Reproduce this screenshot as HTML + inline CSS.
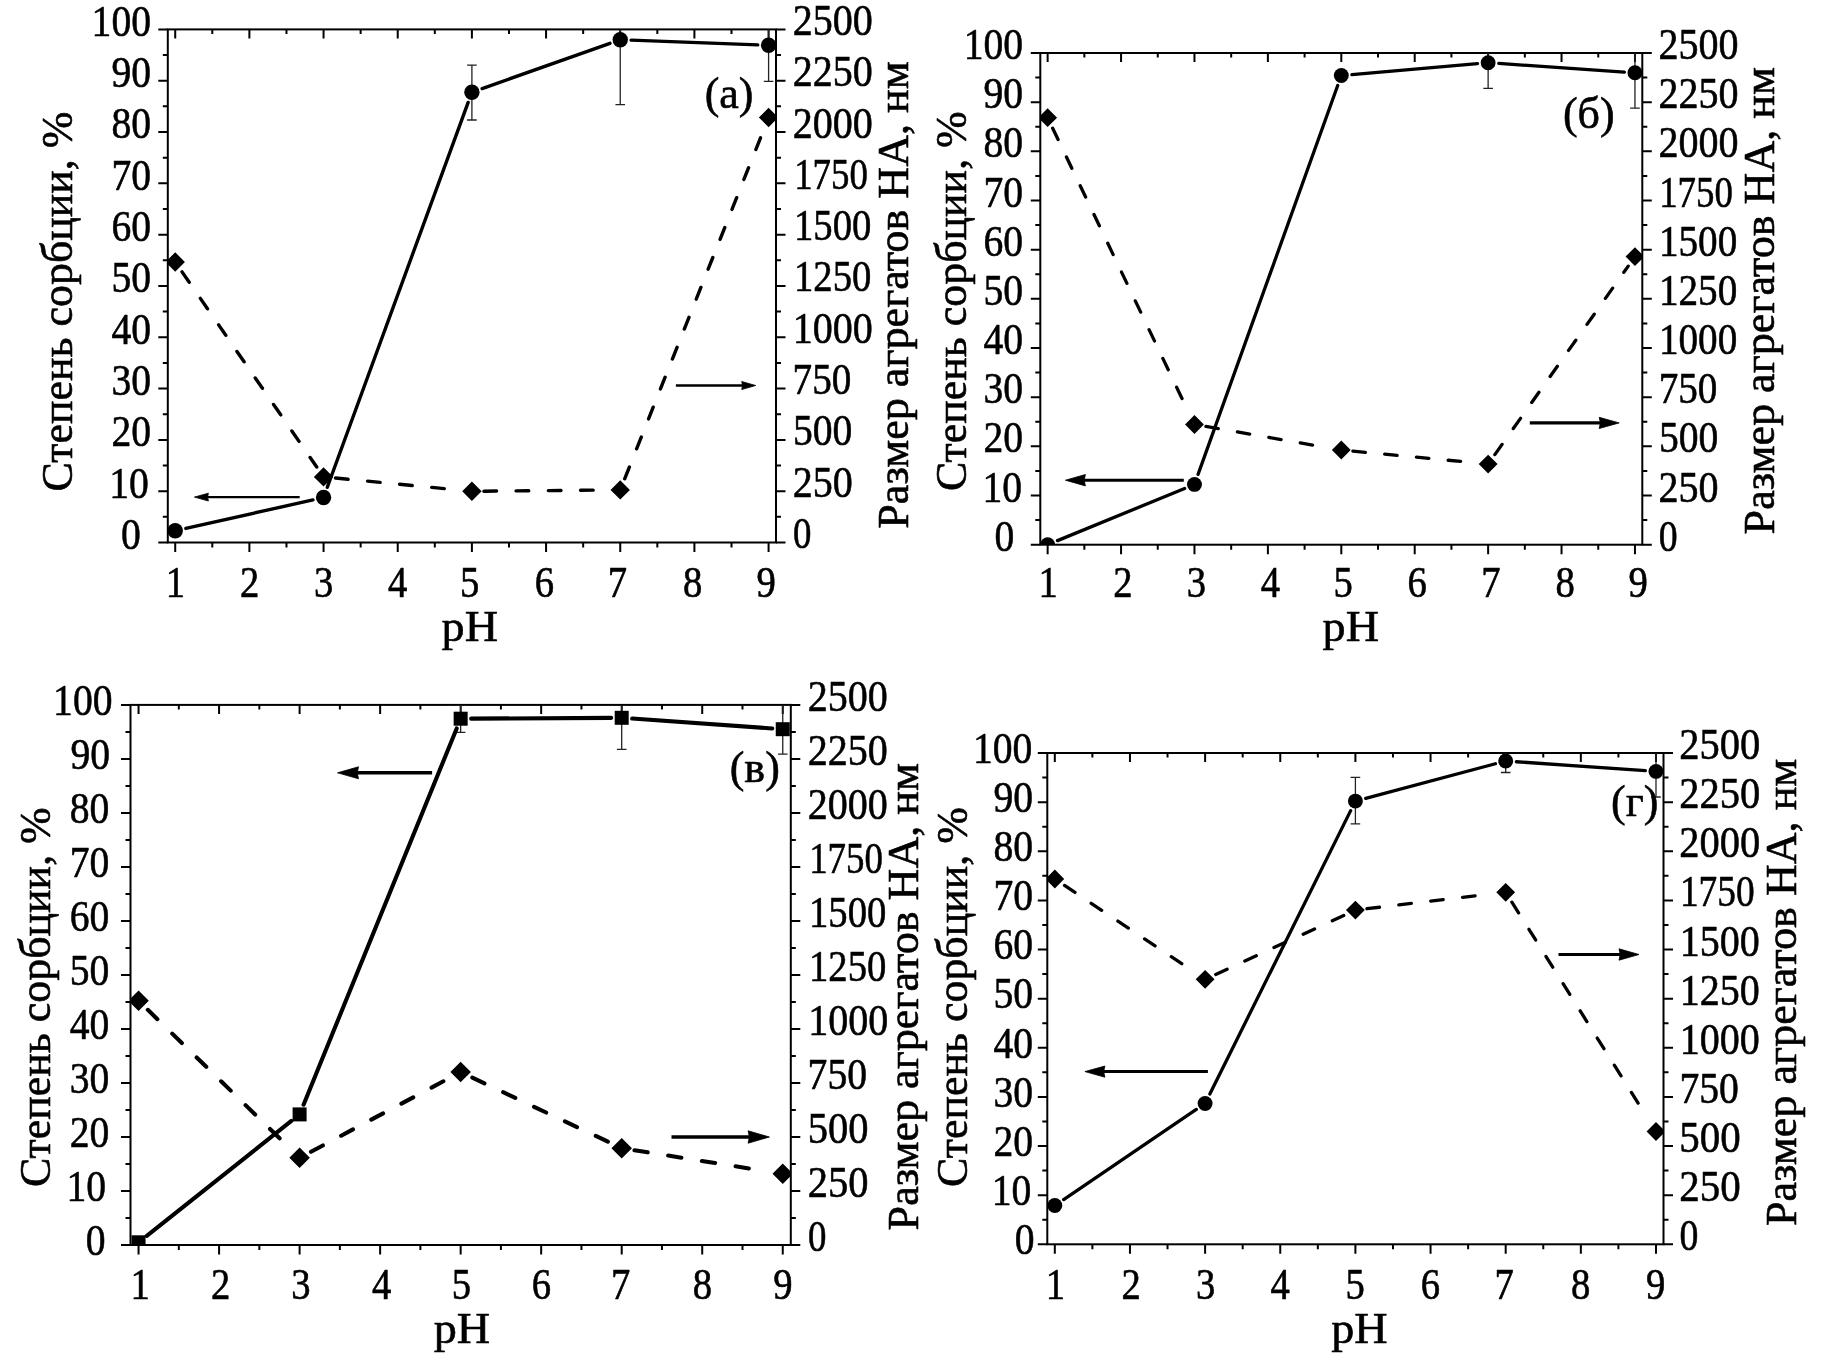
<!DOCTYPE html><html><head><meta charset="utf-8"><style>html,body{margin:0;padding:0;background:#fff;}svg{display:block;filter:grayscale(1);}text{font-family:"Liberation Serif",serif;fill:#000;stroke:#000;stroke-width:0.6px;stroke-linejoin:round;}</style></head><body>
<svg width="1832" height="1357" viewBox="0 0 1832 1357">
<rect width="1832" height="1357" fill="#fff"/>
<clipPath id="clip0"><rect x="167.8" y="29.4" width="608.2" height="513.1"/></clipPath>
<path d="M158.3 542.5H167.8M162.8 516.85H167.8M158.3 491.19H167.8M162.8 465.53H167.8M158.3 439.88H167.8M162.8 414.23H167.8M158.3 388.57H167.8M162.8 362.91H167.8M158.3 337.26H167.8M162.8 311.61H167.8M158.3 285.95H167.8M162.8 260.3H167.8M158.3 234.64H167.8M162.8 208.99H167.8M158.3 183.33H167.8M162.8 157.68H167.8M158.3 132.02H167.8M162.8 106.37H167.8M158.3 80.71H167.8M162.8 55.06H167.8M158.3 29.4H167.8M776 542.5H785.5M776 516.85H781M776 491.19H785.5M776 465.53H781M776 439.88H785.5M776 414.23H781M776 388.57H785.5M776 362.91H781M776 337.26H785.5M776 311.61H781M776 285.95H785.5M776 260.3H781M776 234.64H785.5M776 208.99H781M776 183.33H785.5M776 157.68H781M776 132.02H785.5M776 106.37H781M776 80.71H785.5M776 55.06H781M776 29.4H785.5M175.22 542.5V552M175.22 29.4V38.4M212.3 542.5V547.5M212.3 29.4V33.9M249.39 542.5V552M249.39 29.4V38.4M286.47 542.5V547.5M286.47 29.4V33.9M323.56 542.5V552M323.56 29.4V38.4M360.64 542.5V547.5M360.64 29.4V33.9M397.73 542.5V552M397.73 29.4V38.4M434.81 542.5V547.5M434.81 29.4V33.9M471.9 542.5V552M471.9 29.4V38.4M508.99 542.5V547.5M508.99 29.4V33.9M546.07 542.5V552M546.07 29.4V38.4M583.16 542.5V547.5M583.16 29.4V33.9M620.24 542.5V552M620.24 29.4V38.4M657.33 542.5V547.5M657.33 29.4V33.9M694.41 542.5V552M694.41 29.4V38.4M731.5 542.5V547.5M731.5 29.4V33.9M768.58 542.5V552M768.58 29.4V38.4" stroke="#000" stroke-width="2.0" fill="none"/>
<rect x="167.8" y="29.4" width="608.2" height="513.1" stroke="#000" stroke-width="2.0" fill="none"/>
<g clip-path="url(#clip0)">
<path d="M471.9 65.2V120M467.1 65.2H476.7M467.1 120H476.7M620.24 -30V104.6M615.44 -30H625.04M615.44 104.6H625.04M768.58 9.2V81.4M763.78 9.2H773.38M763.78 81.4H773.38" stroke="#222" stroke-width="1.3" fill="none"/>
<path d="M185.83 528.42L312.95 499.88M327.3 487.29L468.16 102.41M482.15 88.57L609.99 43.33M631.11 40.11L757.71 44.89" stroke="#000" stroke-width="3.4" fill="none" stroke-linecap="round"/>
<path d="M182.03 271.87L189.2 282.26M200.33 298.39L207.51 308.78M218.64 324.9L225.81 335.29M236.94 351.42L244.11 361.81M255.24 377.93L262.42 388.32M273.55 404.45L280.72 414.84M291.85 430.96L299.02 441.35M310.15 457.48L316.74 467.03M335.5 478.06L348.06 479.28M367.57 481.17L380.13 482.39M399.63 484.28L412.2 485.5M431.7 487.4L444.27 488.62M483.9 491.19L496.52 491.07M516.11 490.88L528.74 490.76M548.33 490.58L560.96 490.46M580.55 490.27L593.17 490.16M624.68 478.76L629.35 467.03M636.6 448.82L641.28 437.1M648.53 418.89L653.2 407.16M660.45 388.96L665.12 377.23M672.37 359.03L677.04 347.3M684.3 329.1L688.97 317.37M696.22 299.17L700.89 287.44M708.14 269.23L712.81 257.5M720.06 239.3L724.74 227.57M731.99 209.37L736.66 197.64M743.91 179.44L748.58 167.71M755.83 149.51L760.51 137.78" stroke="#000" stroke-width="3.4" fill="none" stroke-linecap="round"/>
<circle cx="175.22" cy="530.8" r="7.68"/>
<circle cx="323.56" cy="497.5" r="7.68"/>
<circle cx="471.9" cy="92.2" r="7.68"/>
<circle cx="620.24" cy="39.7" r="7.68"/>
<circle cx="768.58" cy="45.3" r="7.68"/>
<path d="M175.22 252.3L184.91 262L175.22 271.7L165.52 262ZM323.56 467.2L333.25 476.9L323.56 486.6L313.86 476.9ZM471.9 481.6L481.6 491.3L471.9 501L462.2 491.3ZM620.24 480.2L629.94 489.9L620.24 499.6L610.55 489.9ZM768.58 107.8L778.28 117.5L768.58 127.2L758.89 117.5Z" fill="#000"/>
</g>
<path d="M299.7 497.1H206.4" stroke="#000" stroke-width="2.3"/>
<path d="M194.4 497.1L208.4 493.2L207.56 497.1L208.4 501Z" fill="#000" stroke="#000" stroke-width="0.8" stroke-linejoin="round"/>
<path d="M675.9 385.5H743.7" stroke="#000" stroke-width="2.4"/>
<path d="M755.7 385.5L741.7 381.5L742.54 385.5L741.7 389.5Z" fill="#000" stroke="#000" stroke-width="0.8" stroke-linejoin="round"/>
<g font-size="45.0"><text transform="translate(121.01 548.89) scale(0.88 1)">0</text><text transform="translate(109.21 497.58) scale(0.88 1)">10</text><text transform="translate(111.41 446.27) scale(0.88 1)">20</text><text transform="translate(111.41 394.96) scale(0.88 1)">30</text><text transform="translate(111.41 343.65) scale(0.88 1)">40</text><text transform="translate(111.41 292.34) scale(0.88 1)">50</text><text transform="translate(111.41 241.03) scale(0.88 1)">60</text><text transform="translate(111.41 189.72) scale(0.88 1)">70</text><text transform="translate(111.41 138.41) scale(0.88 1)">80</text><text transform="translate(111.41 87.1) scale(0.88 1)">90</text><text transform="translate(91.61 35.79) scale(0.88 1)">100</text><text transform="translate(793.09 547.98) scale(0.82 1)">0</text><text transform="translate(792.75 496.67) scale(0.89 1)">250</text><text transform="translate(792.89 445.36) scale(0.88 1)">500</text><text transform="translate(792.61 394.05) scale(0.87 1)">750</text><text transform="translate(792.8 342.74) scale(0.89 1)">1000</text><text transform="translate(794 291.43) scale(0.86 1)">1250</text><text transform="translate(794 240.12) scale(0.86 1)">1500</text><text transform="translate(794.17 188.81) scale(0.82 1)">1750</text><text transform="translate(792.75 137.5) scale(0.89 1)">2000</text><text transform="translate(792.75 86.19) scale(0.89 1)">2250</text><text transform="translate(792.75 34.88) scale(0.89 1)">2500</text><text font-size="43.4" transform="translate(165.72 596.5) scale(0.89 1)">1</text><text font-size="43.4" transform="translate(240.05 596.5) scale(0.89 1)">2</text><text font-size="43.4" transform="translate(314.03 596.5) scale(0.89 1)">3</text><text font-size="43.4" transform="translate(388 596.5) scale(0.89 1)">4</text><text font-size="43.4" transform="translate(459.98 596.5) scale(0.89 1)">5</text><text font-size="43.4" transform="translate(534.76 596.5) scale(0.89 1)">6</text><text font-size="43.4" transform="translate(607.67 596.5) scale(0.89 1)">7</text><text font-size="43.4" transform="translate(682.96 596.5) scale(0.89 1)">8</text><text font-size="43.4" transform="translate(756.5 596.5) scale(0.89 1)">9</text></g>
<text transform="translate(469.8 641.1) scale(1.05 1)" font-size="44.0" text-anchor="middle">pH</text>
<text transform="translate(72.4 491.4) rotate(-90)" font-size="44.0" textLength="379.8" lengthAdjust="spacingAndGlyphs">Степень сорбции, %</text>
<text transform="translate(908.4 528.7) rotate(-90)" font-size="44.0" textLength="467.3" lengthAdjust="spacingAndGlyphs">Размер агрегатов НА, нм</text>
<text x="729.05" y="108" font-size="44.0" text-anchor="middle">(a)</text>
<clipPath id="clip1"><rect x="1040.3" y="53" width="602" height="491.7"/></clipPath>
<path d="M1030.8 544.7H1040.3M1035.3 520.12H1040.3M1030.8 495.53H1040.3M1035.3 470.95H1040.3M1030.8 446.36H1040.3M1035.3 421.78H1040.3M1030.8 397.19H1040.3M1035.3 372.61H1040.3M1030.8 348.02H1040.3M1035.3 323.44H1040.3M1030.8 298.85H1040.3M1035.3 274.26H1040.3M1030.8 249.68H1040.3M1035.3 225.1H1040.3M1030.8 200.51H1040.3M1035.3 175.93H1040.3M1030.8 151.34H1040.3M1035.3 126.75H1040.3M1030.8 102.17H1040.3M1035.3 77.58H1040.3M1030.8 53H1040.3M1642.3 544.7H1651.8M1642.3 520.12H1647.3M1642.3 495.53H1651.8M1642.3 470.95H1647.3M1642.3 446.36H1651.8M1642.3 421.78H1647.3M1642.3 397.19H1651.8M1642.3 372.61H1647.3M1642.3 348.02H1651.8M1642.3 323.44H1647.3M1642.3 298.85H1651.8M1642.3 274.26H1647.3M1642.3 249.68H1651.8M1642.3 225.1H1647.3M1642.3 200.51H1651.8M1642.3 175.93H1647.3M1642.3 151.34H1651.8M1642.3 126.75H1647.3M1642.3 102.17H1651.8M1642.3 77.59H1647.3M1642.3 53H1651.8M1047.64 544.7V554.2M1047.64 53V62M1084.35 544.7V549.7M1084.35 53V57.5M1121.06 544.7V554.2M1121.06 53V62M1157.76 544.7V549.7M1157.76 53V57.5M1194.47 544.7V554.2M1194.47 53V62M1231.18 544.7V549.7M1231.18 53V57.5M1267.89 544.7V554.2M1267.89 53V62M1304.59 544.7V549.7M1304.59 53V57.5M1341.3 544.7V554.2M1341.3 53V62M1378.01 544.7V549.7M1378.01 53V57.5M1414.71 544.7V554.2M1414.71 53V62M1451.42 544.7V549.7M1451.42 53V57.5M1488.13 544.7V554.2M1488.13 53V62M1524.84 544.7V549.7M1524.84 53V57.5M1561.54 544.7V554.2M1561.54 53V62M1598.25 544.7V549.7M1598.25 53V57.5M1634.96 544.7V554.2M1634.96 53V62" stroke="#000" stroke-width="2.0" fill="none"/>
<rect x="1040.3" y="53" width="602" height="491.7" stroke="#000" stroke-width="2.0" fill="none"/>
<g clip-path="url(#clip1)">
<path d="M1488.13 37V88.4M1483.33 37H1492.93M1483.33 88.4H1492.93M1634.96 37.4V108.2M1630.16 37.4H1639.76M1630.16 108.2H1639.76" stroke="#222" stroke-width="1.3" fill="none"/>
<path d="M1057.49 540.65L1184.62 488.45M1198.07 474.38L1337.7 85.52M1351.91 74.58L1477.52 63.62M1498.75 63.43L1624.34 72.07" stroke="#000" stroke-width="3.3" fill="none" stroke-linecap="round"/>
<path d="M1052.67 128.22L1058.07 139.49M1066.45 156.99L1071.84 168.27M1080.22 185.76L1085.61 197.04M1093.99 214.54L1099.38 225.81M1107.76 243.31L1113.15 254.59M1121.53 272.09L1126.93 283.36M1135.3 300.86L1140.7 312.14M1149.07 329.64L1154.47 340.91M1162.84 358.41L1168.24 369.69M1176.61 387.19L1182.01 398.46M1205.96 426.49L1218.27 428.63M1237.39 431.95L1249.7 434.09M1268.82 437.41L1281.13 439.55M1300.25 442.87L1312.56 445.01M1352.9 451.11L1365.35 452.31M1384.66 454.16L1397.1 455.36M1416.41 457.21L1428.86 458.41M1448.17 460.26L1460.61 461.46M1494.86 454.58L1502.08 444.38M1513.29 428.54L1520.51 418.34M1531.72 402.5L1538.94 392.3M1550.14 376.46L1557.36 366.26M1568.57 350.42L1575.79 340.22M1586.99 324.38L1594.21 314.18M1605.42 298.34L1612.64 288.14M1623.85 272.3L1628.22 266.12" stroke="#000" stroke-width="3.3" fill="none" stroke-linecap="round"/>
<circle cx="1047.64" cy="544.7" r="7.45"/>
<circle cx="1194.47" cy="484.4" r="7.45"/>
<circle cx="1341.3" cy="75.5" r="7.45"/>
<circle cx="1488.13" cy="62.7" r="7.45"/>
<circle cx="1634.96" cy="72.8" r="7.45"/>
<path d="M1047.64 108.29L1057.05 117.7L1047.64 127.11L1038.23 117.7ZM1194.47 415.09L1203.88 424.5L1194.47 433.91L1185.06 424.5ZM1341.3 440.59L1350.71 450L1341.3 459.41L1331.89 450ZM1488.13 454.69L1497.54 464.1L1488.13 473.51L1478.72 464.1ZM1634.96 247.19L1644.37 256.6L1634.96 266.01L1625.55 256.6Z" fill="#000"/>
</g>
<path d="M1183.8 480.2H1083.4" stroke="#000" stroke-width="3.0"/>
<path d="M1065.4 480.2L1085.4 474.5L1084.2 480.2L1085.4 485.9Z" fill="#000" stroke="#000" stroke-width="0.8" stroke-linejoin="round"/>
<path d="M1529.8 422.9H1601.2" stroke="#000" stroke-width="3.1"/>
<path d="M1619.2 422.9L1599.2 417.3L1600.4 422.9L1599.2 428.5Z" fill="#000" stroke="#000" stroke-width="0.8" stroke-linejoin="round"/>
<g font-size="45.0"><text transform="translate(994.51 550.7) scale(0.88 1)">0</text><text transform="translate(982.41 501.53) scale(0.88 1)">10</text><text transform="translate(983.51 452.36) scale(0.88 1)">20</text><text transform="translate(983.51 403.19) scale(0.88 1)">30</text><text transform="translate(983.51 354.02) scale(0.88 1)">40</text><text transform="translate(983.51 304.85) scale(0.88 1)">50</text><text transform="translate(983.51 255.68) scale(0.88 1)">60</text><text transform="translate(983.51 206.51) scale(0.88 1)">70</text><text transform="translate(983.51 157.34) scale(0.88 1)">80</text><text transform="translate(983.51 108.17) scale(0.88 1)">90</text><text transform="translate(963.71 59) scale(0.88 1)">100</text><text transform="translate(1658.75 550.71) scale(0.84 1)">0</text><text transform="translate(1658.43 501.54) scale(0.89 1)">250</text><text transform="translate(1658.99 452.37) scale(0.88 1)">500</text><text transform="translate(1658.71 403.2) scale(0.87 1)">750</text><text transform="translate(1658.95 354.03) scale(0.87 1)">1000</text><text transform="translate(1658.95 304.86) scale(0.87 1)">1250</text><text transform="translate(1658.95 255.69) scale(0.87 1)">1500</text><text transform="translate(1659.15 206.52) scale(0.82 1)">1750</text><text transform="translate(1658.44 157.35) scale(0.89 1)">2000</text><text transform="translate(1658.44 108.18) scale(0.89 1)">2250</text><text transform="translate(1658.44 59.01) scale(0.89 1)">2500</text><text font-size="43.4" transform="translate(1038.55 597) scale(0.89 1)">1</text><text font-size="43.4" transform="translate(1113.32 597) scale(0.89 1)">2</text><text font-size="43.4" transform="translate(1186.74 597) scale(0.89 1)">3</text><text font-size="43.4" transform="translate(1260.75 597) scale(0.89 1)">4</text><text font-size="43.4" transform="translate(1333.38 597) scale(0.89 1)">5</text><text font-size="43.4" transform="translate(1407.4 597) scale(0.89 1)">6</text><text font-size="43.4" transform="translate(1481.26 597) scale(0.89 1)">7</text><text font-size="43.4" transform="translate(1555.49 597) scale(0.89 1)">8</text><text font-size="43.4" transform="translate(1628.57 597) scale(0.89 1)">9</text></g>
<text transform="translate(1350.8 640.7) scale(1.05 1)" font-size="44.0" text-anchor="middle">pH</text>
<text transform="translate(966 491.1) rotate(-90)" font-size="44.0" textLength="379.8" lengthAdjust="spacingAndGlyphs">Степень сорбции, %</text>
<text transform="translate(1773.9 534.4) rotate(-90)" font-size="44.0" textLength="467.3" lengthAdjust="spacingAndGlyphs">Размер агрегатов НА, нм</text>
<text x="1588.75" y="128.4" font-size="44.0" text-anchor="middle">(б)</text>
<clipPath id="clip2"><rect x="130.5" y="704.9" width="660.3" height="540.1"/></clipPath>
<path d="M121 1245H130.5M125.5 1217.99H130.5M121 1190.99H130.5M125.5 1163.98H130.5M121 1136.98H130.5M125.5 1109.97H130.5M121 1082.97H130.5M125.5 1055.96H130.5M121 1028.96H130.5M125.5 1001.96H130.5M121 974.95H130.5M125.5 947.94H130.5M121 920.94H130.5M125.5 893.93H130.5M121 866.93H130.5M125.5 839.92H130.5M121 812.92H130.5M125.5 785.91H130.5M121 758.91H130.5M125.5 731.9H130.5M121 704.9H130.5M790.8 1245H800.3M790.8 1217.99H795.8M790.8 1190.99H800.3M790.8 1163.98H795.8M790.8 1136.98H800.3M790.8 1109.97H795.8M790.8 1082.97H800.3M790.8 1055.96H795.8M790.8 1028.96H800.3M790.8 1001.96H795.8M790.8 974.95H800.3M790.8 947.94H795.8M790.8 920.94H800.3M790.8 893.93H795.8M790.8 866.93H800.3M790.8 839.92H795.8M790.8 812.92H800.3M790.8 785.91H795.8M790.8 758.91H800.3M790.8 731.9H795.8M790.8 704.9H800.3M138.55 1245V1254.5M138.55 704.9V713.9M178.81 1245V1250M178.81 704.9V709.4M219.08 1245V1254.5M219.08 704.9V713.9M259.34 1245V1250M259.34 704.9V709.4M299.6 1245V1254.5M299.6 704.9V713.9M339.86 1245V1250M339.86 704.9V709.4M380.13 1245V1254.5M380.13 704.9V713.9M420.39 1245V1250M420.39 704.9V709.4M460.65 1245V1254.5M460.65 704.9V713.9M500.91 1245V1250M500.91 704.9V709.4M541.17 1245V1254.5M541.17 704.9V713.9M581.44 1245V1250M581.44 704.9V709.4M621.7 1245V1254.5M621.7 704.9V713.9M661.96 1245V1250M661.96 704.9V709.4M702.22 1245V1254.5M702.22 704.9V713.9M742.49 1245V1250M742.49 704.9V709.4M782.75 1245V1254.5M782.75 704.9V713.9" stroke="#000" stroke-width="2.0" fill="none"/>
<rect x="130.5" y="704.9" width="660.3" height="540.1" stroke="#000" stroke-width="2.0" fill="none"/>
<g clip-path="url(#clip2)">
<path d="M460.65 705V732.4M455.85 705H465.45M455.85 732.4H465.45M621.7 686.2V749.4M616.9 686.2H626.5M616.9 749.4H626.5M782.75 703.8V754.2M777.95 703.8H787.55M777.95 754.2H787.55" stroke="#222" stroke-width="1.3" fill="none"/>
<path d="M146.77 1235.77L291.38 1120.93M303.56 1104.67L456.69 728.43M471.15 718.64L611.2 717.86M632.17 718.54L772.27 728.46" stroke="#000" stroke-width="4.1" fill="none" stroke-linecap="round"/>
<path d="M147.81 1009.82L157.38 1019.16M172.25 1033.65L181.82 1042.98M196.69 1057.47L206.26 1066.81M221.13 1081.3L230.71 1090.64M245.57 1105.13L255.15 1114.46M270.01 1128.95L279.59 1138.29M311.01 1151.73L322.82 1145.45M341.14 1135.7L352.95 1129.41M371.27 1119.66L383.08 1113.38M401.41 1103.63L413.21 1097.34M431.54 1087.59L443.35 1081.31M472.33 1077.62L484.43 1083.33M503.19 1092.2L515.29 1097.92M534.06 1106.79L546.15 1112.5M564.92 1121.37L577.01 1127.08M595.78 1135.95L607.87 1141.67M634.46 1150.23L647.67 1152.33M668.17 1155.59L681.38 1157.69M701.88 1160.95L715.09 1163.05M735.59 1166.3L748.8 1168.4" stroke="#000" stroke-width="4.1" fill="none" stroke-linecap="round"/>
<rect x="131.55" y="1235.3" width="14" height="14"/>
<rect x="292.6" y="1107.4" width="14" height="14"/>
<rect x="453.65" y="711.7" width="14" height="14"/>
<rect x="614.7" y="710.8" width="14" height="14"/>
<rect x="775.75" y="722.2" width="14" height="14"/>
<path d="M138.55 990.53L148.82 1000.8L138.55 1011.07L128.28 1000.8ZM299.6 1147.53L309.87 1157.8L299.6 1168.07L289.33 1157.8ZM460.65 1061.83L470.92 1072.1L460.65 1082.37L450.38 1072.1ZM621.7 1137.93L631.97 1148.2L621.7 1158.47L611.43 1148.2ZM782.75 1163.53L793.02 1173.8L782.75 1184.07L772.48 1173.8Z" fill="#000"/>
</g>
<path d="M432.1 772.8H356.5" stroke="#000" stroke-width="3.6"/>
<path d="M337.5 772.8L358.5 766.8L357.24 772.8L358.5 778.8Z" fill="#000" stroke="#000" stroke-width="0.8" stroke-linejoin="round"/>
<path d="M671.5 1137H750.1" stroke="#000" stroke-width="3.6"/>
<path d="M769.4 1137L748.1 1130.8L749.38 1137L748.1 1143.2Z" fill="#000" stroke="#000" stroke-width="0.8" stroke-linejoin="round"/>
<g font-size="45.0"><text transform="translate(85.71 1254.84) scale(0.88 1)">0</text><text transform="translate(66.41 1200.83) scale(0.88 1)">10</text><text transform="translate(69.71 1146.82) scale(0.88 1)">20</text><text transform="translate(69.71 1092.81) scale(0.88 1)">30</text><text transform="translate(69.71 1038.8) scale(0.88 1)">40</text><text transform="translate(69.71 984.79) scale(0.88 1)">50</text><text transform="translate(69.71 930.78) scale(0.88 1)">60</text><text transform="translate(69.71 876.77) scale(0.88 1)">70</text><text transform="translate(69.71 822.76) scale(0.88 1)">80</text><text transform="translate(70.41 768.75) scale(0.88 1)">90</text><text transform="translate(53.11 714.74) scale(0.88 1)">100</text><text transform="translate(808.09 1251.47) scale(0.82 1)">0</text><text transform="translate(807.71 1197.46) scale(0.9 1)">250</text><text transform="translate(807.84 1143.45) scale(0.9 1)">500</text><text transform="translate(807.59 1089.44) scale(0.88 1)">750</text><text transform="translate(808.18 1035.43) scale(0.89 1)">1000</text><text transform="translate(809 981.42) scale(0.86 1)">1250</text><text transform="translate(809 927.41) scale(0.86 1)">1500</text><text transform="translate(809.15 873.4) scale(0.82 1)">1750</text><text transform="translate(807.73 819.39) scale(0.89 1)">2000</text><text transform="translate(807.73 765.38) scale(0.89 1)">2250</text><text transform="translate(807.73 711.37) scale(0.89 1)">2500</text><text font-size="43.4" transform="translate(130.56 1298.8) scale(0.89 1)">1</text><text font-size="43.4" transform="translate(211.04 1298.8) scale(0.89 1)">2</text><text font-size="43.4" transform="translate(291.37 1298.8) scale(0.89 1)">3</text><text font-size="43.4" transform="translate(371.99 1298.8) scale(0.89 1)">4</text><text font-size="43.4" transform="translate(451.83 1298.8) scale(0.89 1)">5</text><text font-size="43.4" transform="translate(531.86 1298.8) scale(0.89 1)">6</text><text font-size="43.4" transform="translate(610.93 1298.8) scale(0.89 1)">7</text><text font-size="43.4" transform="translate(692.77 1298.8) scale(0.89 1)">8</text><text font-size="43.4" transform="translate(773.26 1298.8) scale(0.89 1)">9</text></g>
<text transform="translate(461.9 1342.6) scale(1.05 1)" font-size="44.0" text-anchor="middle">pH</text>
<text transform="translate(49.9 1187.1) rotate(-90)" font-size="44.0" textLength="379.8" lengthAdjust="spacingAndGlyphs">Степень сорбции, %</text>
<text transform="translate(918.4 1230.4) rotate(-90)" font-size="44.0" textLength="467.3" lengthAdjust="spacingAndGlyphs">Размер агрегатов НА, нм</text>
<text x="754.75" y="782.2" font-size="44.0" text-anchor="middle">(в)</text>
<clipPath id="clip3"><rect x="1047.3" y="753" width="616.2" height="491.3"/></clipPath>
<path d="M1037.8 1244.3H1047.3M1042.3 1219.73H1047.3M1037.8 1195.17H1047.3M1042.3 1170.61H1047.3M1037.8 1146.04H1047.3M1042.3 1121.47H1047.3M1037.8 1096.91H1047.3M1042.3 1072.35H1047.3M1037.8 1047.78H1047.3M1042.3 1023.22H1047.3M1037.8 998.65H1047.3M1042.3 974.09H1047.3M1037.8 949.52H1047.3M1042.3 924.95H1047.3M1037.8 900.39H1047.3M1042.3 875.82H1047.3M1037.8 851.26H1047.3M1042.3 826.7H1047.3M1037.8 802.13H1047.3M1042.3 777.57H1047.3M1037.8 753H1047.3M1663.5 1244.3H1673M1663.5 1219.73H1668.5M1663.5 1195.17H1673M1663.5 1170.61H1668.5M1663.5 1146.04H1673M1663.5 1121.47H1668.5M1663.5 1096.91H1673M1663.5 1072.35H1668.5M1663.5 1047.78H1673M1663.5 1023.21H1668.5M1663.5 998.65H1673M1663.5 974.09H1668.5M1663.5 949.52H1673M1663.5 924.95H1668.5M1663.5 900.39H1673M1663.5 875.83H1668.5M1663.5 851.26H1673M1663.5 826.69H1668.5M1663.5 802.13H1673M1663.5 777.56H1668.5M1663.5 753H1673M1054.81 1244.3V1253.8M1054.81 753V762M1092.39 1244.3V1249.3M1092.39 753V757.5M1129.96 1244.3V1253.8M1129.96 753V762M1167.53 1244.3V1249.3M1167.53 753V757.5M1205.11 1244.3V1253.8M1205.11 753V762M1242.68 1244.3V1249.3M1242.68 753V757.5M1280.25 1244.3V1253.8M1280.25 753V762M1317.83 1244.3V1249.3M1317.83 753V757.5M1355.4 1244.3V1253.8M1355.4 753V762M1392.97 1244.3V1249.3M1392.97 753V757.5M1430.55 1244.3V1253.8M1430.55 753V762M1468.12 1244.3V1249.3M1468.12 753V757.5M1505.69 1244.3V1253.8M1505.69 753V762M1543.27 1244.3V1249.3M1543.27 753V757.5M1580.84 1244.3V1253.8M1580.84 753V762M1618.41 1244.3V1249.3M1618.41 753V757.5M1655.99 1244.3V1253.8M1655.99 753V762" stroke="#000" stroke-width="2.0" fill="none"/>
<rect x="1047.3" y="753" width="616.2" height="491.3" stroke="#000" stroke-width="2.0" fill="none"/>
<g clip-path="url(#clip3)">
<path d="M1355.4 777.4V823.8M1350.6 777.4H1360.2M1350.6 823.8H1360.2M1505.69 749.5V772.5M1500.89 749.5H1510.49M1500.89 772.5H1510.49M1655.99 745.8V797M1651.19 745.8H1660.79M1651.19 797H1660.79" stroke="#222" stroke-width="1.3" fill="none"/>
<path d="M1063.63 1199.52L1196.3 1109.48M1209.85 1093.96L1350.66 810.64M1365.69 798.36L1495.4 763.74M1516.32 761.74L1645.36 770.66" stroke="#000" stroke-width="3.3" fill="none" stroke-linecap="round"/>
<path d="M1064.51 885.47L1074.97 892.45M1091.2 903.29L1101.66 910.27M1117.9 921.1L1128.36 928.08M1144.59 938.91L1155.05 945.89M1171.28 956.73L1181.74 963.71M1215.7 974.42L1227.12 969.16M1244.85 961L1256.27 955.74M1274 947.58L1285.42 942.32M1303.15 934.16L1314.57 928.9M1332.3 920.74L1343.72 915.48M1366.98 908.73L1379.46 907.25M1398.85 904.95L1411.33 903.48M1430.71 901.18L1443.2 899.7M1462.58 897.41L1475.07 895.93M1511.89 902.17L1518.59 912.82M1528.97 929.34L1535.66 939.99M1546.04 956.52L1552.73 967.16M1563.11 983.69L1569.8 994.34M1580.19 1010.86L1586.88 1021.51M1597.26 1038.04L1603.95 1048.68M1614.33 1065.21L1621.02 1075.86M1631.41 1092.38L1638.1 1103.03" stroke="#000" stroke-width="3.3" fill="none" stroke-linecap="round"/>
<circle cx="1054.81" cy="1205.5" r="7.45"/>
<circle cx="1205.11" cy="1103.5" r="7.45"/>
<circle cx="1355.4" cy="801.1" r="7.45"/>
<circle cx="1505.69" cy="761" r="7.45"/>
<circle cx="1655.99" cy="771.4" r="7.45"/>
<path d="M1054.81 869.59L1064.22 879L1054.81 888.41L1045.41 879ZM1205.11 969.89L1214.52 979.3L1205.11 988.71L1195.7 979.3ZM1355.4 900.69L1364.81 910.1L1355.4 919.51L1345.99 910.1ZM1505.69 882.89L1515.1 892.3L1505.69 901.71L1496.28 892.3ZM1655.99 1122.09L1665.39 1131.5L1655.99 1140.91L1646.58 1131.5Z" fill="#000"/>
</g>
<path d="M1207.9 1071.6H1102.9" stroke="#000" stroke-width="3.0"/>
<path d="M1084.9 1071.6L1104.9 1066L1103.7 1071.6L1104.9 1077.2Z" fill="#000" stroke="#000" stroke-width="0.8" stroke-linejoin="round"/>
<path d="M1558.5 954.5H1621" stroke="#000" stroke-width="3.0"/>
<path d="M1639 954.5L1619 948.8L1620.2 954.5L1619 960.2Z" fill="#000" stroke="#000" stroke-width="0.8" stroke-linejoin="round"/>
<g font-size="45.0"><text transform="translate(1014.81 1254.14) scale(0.88 1)">0</text><text transform="translate(991.71 1205.01) scale(0.88 1)">10</text><text transform="translate(993.41 1155.88) scale(0.88 1)">20</text><text transform="translate(993.41 1106.75) scale(0.88 1)">30</text><text transform="translate(993.41 1057.62) scale(0.88 1)">40</text><text transform="translate(993.41 1008.49) scale(0.88 1)">50</text><text transform="translate(993.41 959.36) scale(0.88 1)">60</text><text transform="translate(993.41 910.23) scale(0.88 1)">70</text><text transform="translate(993.41 861.1) scale(0.88 1)">80</text><text transform="translate(993.41 811.97) scale(0.88 1)">90</text><text transform="translate(973.01 762.84) scale(0.88 1)">100</text><text transform="translate(1679.55 1250.33) scale(0.84 1)">0</text><text transform="translate(1679.2 1201.2) scale(0.91 1)">250</text><text transform="translate(1679.22 1152.07) scale(0.91 1)">500</text><text transform="translate(1679.48 1102.94) scale(0.88 1)">750</text><text transform="translate(1679.7 1053.81) scale(0.89 1)">1000</text><text transform="translate(1679.7 1004.68) scale(0.89 1)">1250</text><text transform="translate(1679.7 955.55) scale(0.89 1)">1500</text><text transform="translate(1679.9 906.42) scale(0.83 1)">1750</text><text transform="translate(1679.21 857.29) scale(0.9 1)">2000</text><text transform="translate(1679.21 808.16) scale(0.9 1)">2250</text><text transform="translate(1679.21 759.03) scale(0.9 1)">2500</text><text font-size="43.4" transform="translate(1045.72 1298.8) scale(0.89 1)">1</text><text font-size="43.4" transform="translate(1121.52 1298.8) scale(0.89 1)">2</text><text font-size="43.4" transform="translate(1196.08 1298.8) scale(0.89 1)">3</text><text font-size="43.4" transform="translate(1270.62 1298.8) scale(0.89 1)">4</text><text font-size="43.4" transform="translate(1345.38 1298.8) scale(0.89 1)">5</text><text font-size="43.4" transform="translate(1420.84 1298.8) scale(0.89 1)">6</text><text font-size="43.4" transform="translate(1494.62 1298.8) scale(0.89 1)">7</text><text font-size="43.4" transform="translate(1570.88 1298.8) scale(0.89 1)">8</text><text font-size="43.4" transform="translate(1646.1 1298.8) scale(0.89 1)">9</text></g>
<text transform="translate(1359.4 1342.6) scale(1.05 1)" font-size="44.0" text-anchor="middle">pH</text>
<text transform="translate(966.8 1187) rotate(-90)" font-size="44.0" textLength="379.8" lengthAdjust="spacingAndGlyphs">Степень сорбции, %</text>
<text transform="translate(1796 1226.1) rotate(-90)" font-size="44.0" textLength="467.3" lengthAdjust="spacingAndGlyphs">Размер агрегатов НА, нм</text>
<text x="1634.75" y="815.8" font-size="44.0" text-anchor="middle">(г)</text>
</svg></body></html>
